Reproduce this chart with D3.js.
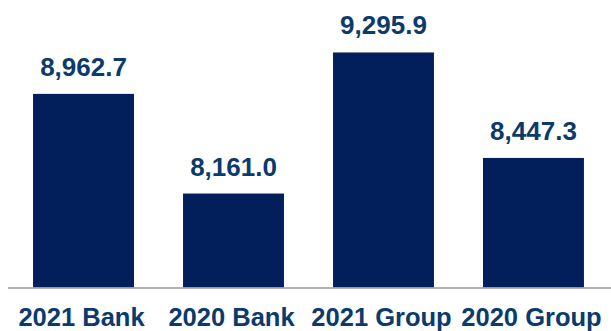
<!DOCTYPE html>
<html>
<head>
<meta charset="utf-8">
<script src="https://cdn.jsdelivr.net/npm/d3@7"></script>
<style>
html,body{margin:0;padding:0;background:#fff;}
svg{display:block;}
</style>
</head>
<body>
<script>
const categories = ["2021 Bank", "2020 Bank", "2021 Group", "2020 Group"];
const values = [8962.7, 8161.0, 9295.9, 8447.3];
const valueLabels = ["8,962.7", "8,161.0", "9,295.9", "8,447.3"];

const W = 611, H = 331;
const baseline = 287.5;
const svg = d3.select("body").append("svg").attr("width", W).attr("height", H);

const x = d3.scaleBand().domain(categories).range([8, 609])
  .paddingInner(0.327).paddingOuter(0.167);
const y = d3.scaleLinear().domain([7405, 9718]).range([baseline, 0]);

const font = "'Liberation Sans', Arial, sans-serif";

svg.selectAll("rect.bar").data(values).enter().append("rect")
  .attr("class", "bar")
  .attr("x", (d, i) => x(categories[i]))
  .attr("width", x.bandwidth())
  .attr("y", d => y(d))
  .attr("height", d => baseline - y(d))
  .attr("fill", "#021f5c");

svg.append("line")
  .attr("x1", 8).attr("x2", W)
  .attr("y1", baseline + 0.5).attr("y2", baseline + 0.5)
  .attr("stroke", "#9a9a9a").attr("stroke-width", 1.5);

svg.selectAll("text.val").data(values).enter().append("text")
  .attr("class", "val")
  .attr("x", (d, i) => x(categories[i]) + x.bandwidth() / 2)
  .attr("y", d => y(d) - 18)
  .attr("text-anchor", "middle")
  .attr("font-family", font).attr("font-weight", "bold").attr("font-size", 26)
  .attr("fill", "#0b3a6c")
  .text((d, i) => valueLabels[i]);

const xAxis = d3.axisBottom(x).tickSize(0).tickPadding(0);
const g = svg.append("g").attr("transform", `translate(0,${baseline})`).call(xAxis);
g.select(".domain").remove();
g.selectAll("text")
  .attr("y", 0).attr("dy", 0)
  .attr("transform", "translate(-2,38)")
  .attr("font-family", font).attr("font-weight", "bold").attr("font-size", 25.5)
  .attr("fill", "#0b3a6c");
</script>
</body>
</html>
